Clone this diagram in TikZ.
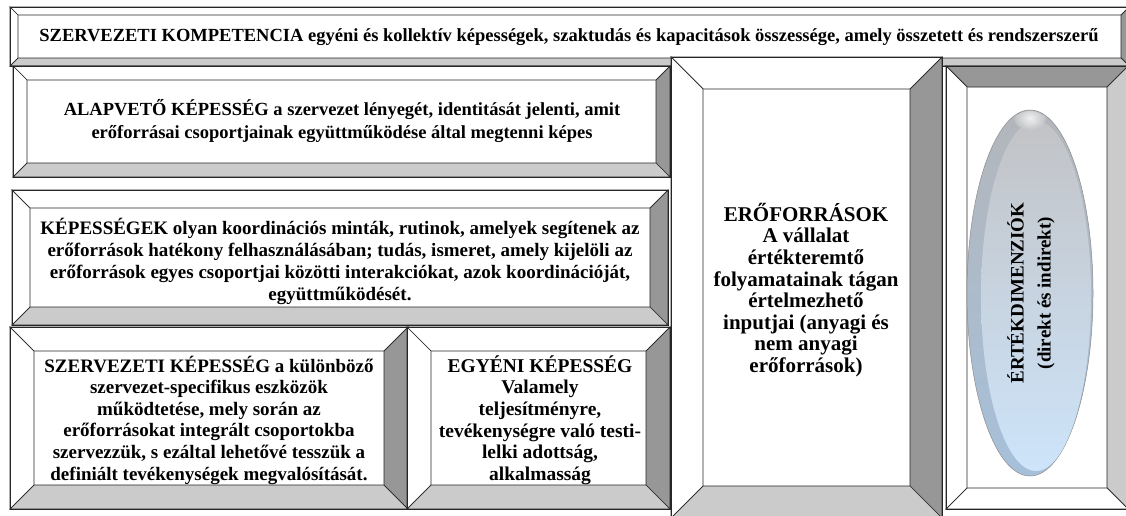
\documentclass[tikz,border=0pt]{standalone}
\usepackage{fontspec}
\setmainfont{Liberation Serif}
\definecolor{bevdark}{HTML}{979797}
\definecolor{bevlight}{HTML}{CBCBCB}
\definecolor{rimtop}{HTML}{B3B6BB}
\definecolor{rimbot}{HTML}{A6C0DA}
\definecolor{bodytop}{HTML}{C2C3C6}
\definecolor{bodybot}{HTML}{CDE4FA}
% bevelled frame: x0 y0 x1 y1 depth, then fills of top, left, right, bottom faces
\newcommand{\bevelframe}[9]{%
  \fill[white] (#1,#2) rectangle (#3,#4);
  \filldraw[edge,fill=#6] (#1,#2) -- (#3,#2) -- ({#3-#5},{#2+#5}) -- ({#1+#5},{#2+#5}) -- cycle;
  \filldraw[edge,fill=#7] (#1,#2) -- ({#1+#5},{#2+#5}) -- ({#1+#5},{#4-#5}) -- (#1,#4) -- cycle;
  \filldraw[edge,fill=#8] (#3,#2) -- (#3,#4) -- ({#3-#5},{#4-#5}) -- ({#3-#5},{#2+#5}) -- cycle;
  \filldraw[edge,fill=#9] (#1,#4) -- (#3,#4) -- ({#3-#5},{#4-#5}) -- ({#1+#5},{#4-#5}) -- cycle;
  \draw[edge] (#1,#2) rectangle (#3,#4);
}
\begin{document}
\begin{tikzpicture}[x=1pt,y=-1pt,
  edge/.style={draw=black!85,line width=0.7pt,line join=miter},
  lbl/.style={align=center, text=black, inner sep=0pt}]
\useasboundingbox (0,0) rectangle (1126,515);
\clip (0,0) rectangle (1126,515);

% top banner
\bevelframe{10}{7}{1129}{66}{8}{white}{white}{bevdark}{bevlight}
\node[lbl,font=\fontsize{18.5}{21}\selectfont\bfseries] (komp) at (569,37)
  {SZERVEZETI KOMPETENCIA egyéni és kollektív képességek, szaktudás és kapacitások összessége, amely összetett és rendszerszerű};

% left column
\bevelframe{13}{66}{670}{177}{14}{white}{white}{bevdark}{bevlight}
\node[lbl,font=\fontsize{18.5}{23}\selectfont\bfseries] (alap) at (342,121)
  {ALAPVETŐ KÉPESSÉG a szervezet lényegét, identitását jelenti, amit\\
   erőforrásai csoportjainak együttműködése által megtenni képes};

\bevelframe{12}{190}{668}{325}{18}{white}{white}{bevdark}{bevlight}
\node[lbl,font=\fontsize{19}{22}\selectfont\bfseries] (kep) at (340,261)
  {KÉPESSÉGEK olyan koordinációs minták, rutinok, amelyek segítenek az\\
   erőforrások hatékony felhasználásában; tudás, ismeret, amely kijelöli az\\
   erőforrások egyes csoportjai közötti interakciókat, azok koordinációját,\\
   együttműködését.};

\bevelframe{10}{327}{408}{509}{24}{white}{white}{bevdark}{bevlight}
\node[lbl,font=\fontsize{19}{21.6}\selectfont\bfseries] (szerv) at (209,420)
  {SZERVEZETI KÉPESSÉG a különböző\\
   szervezet-specifikus eszközök\\
   működtetése, mely során az\\
   erőforrásokat integrált csoportokba\\
   szervezzük, s ezáltal lehetővé tesszük a\\
   definiált tevékenységek megvalósítását.};

\bevelframe{407}{327}{670}{509}{24}{white}{white}{bevdark}{bevlight}
\node[lbl,font=\fontsize{19.5}{21.6}\selectfont\bfseries] (egy) at (540,420)
  {EGYÉNI KÉPESSÉG\\
   Valamely\\
   teljesítményre,\\
   tevékenységre való testi-\\
   lelki adottság,\\
   alkalmasság};

% resources column
\bevelframe{671}{57}{942}{518}{32}{white}{white}{bevdark}{bevlight}
\node[lbl,font=\fontsize{21}{21.6}\selectfont\bfseries] (eroforr) at (806,290)
  {ERŐFORRÁSOK\\
   A vállalat\\
   értékteremtő\\
   folyamatainak tágan\\
   értelmezhető\\
   inputjai (anyagi és\\
   nem anyagi\\
   erőforrások)};

% value column, bevel turned a quarter
\bevelframe{946}{66}{1128}{509}{21}{bevdark}{white}{bevlight}{white}
\shade[top color=rimtop,bottom color=rimbot,draw=black!45,line width=0.5pt]
  (1030,293) ellipse [x radius=63pt,y radius=183pt];
\shade[top color=bodytop,bottom color=bodybot]
  (1036,296) ellipse [x radius=55pt,y radius=175pt];
% soft shine at the crown of the lens
\begin{scope}
  \clip (1030,293) ellipse [x radius=62pt,y radius=182pt];
  \shade[inner color=white,outer color=bodytop,opacity=0.8]
    (1030,118) ellipse [x radius=16pt,y radius=12pt];
\end{scope}
\node[lbl,rotate=90,font=\fontsize{19}{27}\selectfont\bfseries] (ertek) at (1031,293)
  {ÉRTÉKDIMENZIÓK\\(direkt és indirekt)};
\end{tikzpicture}
\end{document}
